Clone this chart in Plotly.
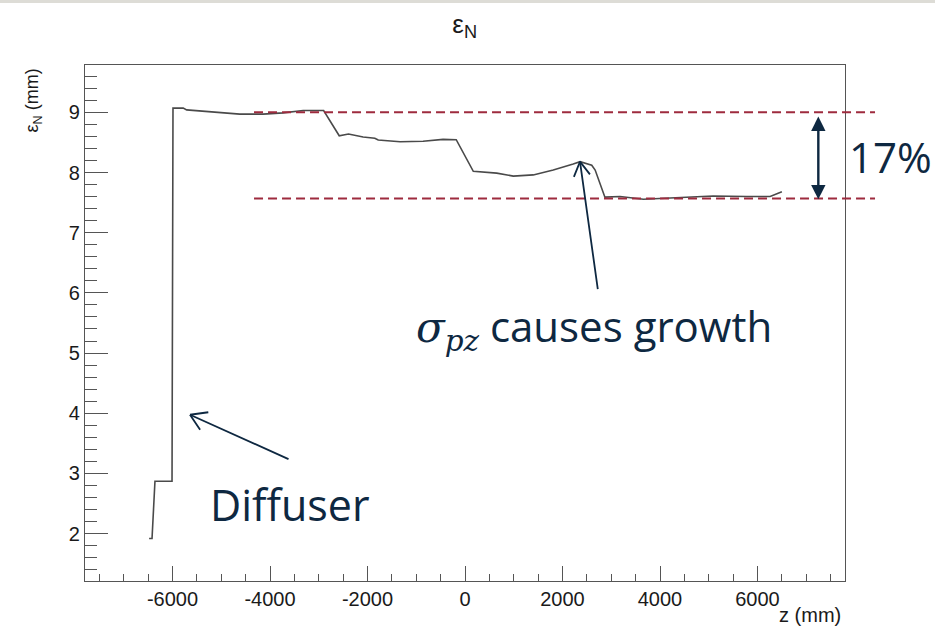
import plotly.graph_objects as go

# ---- data ----
z_mm = [-6480, -6420, -6360, -6010, -5990, -5780, -5710, -5160, -4820, -4620,
        -4140, -3730, -3320, -2970, -2900, -2580, -2390, -2090, -1850, -1780,
        -1330, -860, -450, -180, 170, 650, 990, 1400, 1810, 2220,
        2360, 2600, 2670, 2870, 3180, 3660, 4410, 5090, 5780, 6260, 6500]
eps_n = [1.92, 1.92, 2.87, 2.87, 9.07, 9.07, 9.04, 9.01, 8.98, 8.97,
         8.97, 8.99, 9.03, 9.04, 9.03, 8.61, 8.64, 8.59, 8.57, 8.54,
         8.51, 8.52, 8.55, 8.545, 8.02, 7.99, 7.94, 7.96, 8.04, 8.14,
         8.18, 8.12, 8.04, 7.59, 7.60, 7.555, 7.59, 7.61, 7.60, 7.60, 7.68]
ref_high = 9.0
ref_low = 7.57
x_tick_vals = [-6000, -4000, -2000, 0, 2000, 4000, 6000]
x_tick_text = ["-6000", "-4000", "-2000", "0", "2000", "4000", "6000"]
y_tick_vals = [2, 3, 4, 5, 6, 7, 8, 9]
y_tick_text = ["2", "3", "4", "5", "6", "7", "8", "9"]

NAVY = "#0e2841"
DASH = "#9e2b3e"
AX = "#555555"
ROOTFONT = "Liberation Sans, Arial"
TXTFONT = "Open Sans"

fig = go.Figure()
fig.add_trace(go.Scatter(x=z_mm, y=eps_n, mode="lines",
                         line=dict(color="#4a4a4a", width=1.6),
                         showlegend=False, hoverinfo="skip"))

axis_font = dict(family=ROOTFONT, size=20, color="#1a1a1a")
fig.update_xaxes(range=[-7795, 7795], tickvals=x_tick_vals, ticktext=x_tick_text,
                 ticks="inside", ticklen=15, tickwidth=1, tickcolor=AX,
                 minor=dict(dtick=500, ticks="inside", ticklen=7, tickwidth=1, tickcolor=AX),
                 showline=True, linecolor=AX, linewidth=1.3, mirror=True,
                 showgrid=False, zeroline=False, tickfont=axis_font)
fig.update_yaxes(range=[1.213, 9.786], tickvals=y_tick_vals, ticktext=y_tick_text,
                 ticks="inside", ticklen=23, tickwidth=1, tickcolor=AX,
                 minor=dict(dtick=0.2, ticks="inside", ticklen=12, tickwidth=1, tickcolor=AX),
                 showline=True, linecolor=AX, linewidth=1.3, mirror=True,
                 showgrid=False, zeroline=False, tickfont=axis_font)

shapes = []
for yv in (ref_high, ref_low):
    shapes.append(dict(type="line", xref="paper", yref="y",
                       x0=0.2224, x1=1.0395, y0=yv, y1=yv,
                       line=dict(color=DASH, width=2, dash="9px,5px")))
# thin gray band at very top
shapes.append(dict(type="rect", xref="paper", yref="paper",
                   x0=-0.2, x1=1.2, y0=1.12, y1=1.14,
                   line=dict(width=0), fillcolor="#dddcd6"))

annotations = []
# double arrow (17%)
annotations.append(dict(xref="x domain", yref="y", axref="x domain", ayref="y",
                        x=0.9649, y=7.555, ax=0.9649, ay=8.955, text="",
                        showarrow=True, arrowside="end+start", arrowhead=2,
                        arrowsize=1.2, arrowwidth=2.4, arrowcolor=NAVY))
annotations.append(dict(xref="paper", yref="y", x=1.06, y=8.26, text="17%",
                        showarrow=False, xanchor="center", yanchor="middle",
                        font=dict(family=TXTFONT, size=42, color=NAVY)))


def chevron(xt, yt, tail, arm1, arm2):
    out = []
    for off in (tail, arm1, arm2):
        out.append(dict(xref="x", yref="y", x=xt, y=yt, ax=off[0], ay=off[1],
                        axref="pixel", ayref="pixel", text="", showarrow=True,
                        arrowhead=0, arrowwidth=1.8, arrowcolor=NAVY, standoff=0))
    return out


# Diffuser arrow
annotations += chevron(-5641, 3.975, (100, 45), (19.8, -2.7), (11.1, 16.6))
annotations.append(dict(xref="x", yref="y", x=-3590, y=2.48, text="Diffuser",
                        showarrow=False, xanchor="center", yanchor="middle",
                        font=dict(family=TXTFONT, size=43, color=NAVY)))
# sigma arrow
annotations += chevron(2359, 8.18, (18, 129), (11.1, 14.2), (-6.7, 16.7))
annotations.append(dict(xref="x", yref="y", x=2656, y=5.43,
                        text="<span style='font-family:DejaVu Serif'><i>σ</i><sub><i>pz</i></sub></span> causes growth",
                        showarrow=False, xanchor="center", yanchor="middle",
                        font=dict(family=TXTFONT, size=42, color=NAVY)))
# axis titles
annotations.append(dict(xref="paper", yref="paper", x=-0.068, y=0.932,
                        text="ε<sub>N</sub> (mm)", textangle=-90, showarrow=False,
                        xanchor="center", yanchor="middle",
                        font=dict(family=ROOTFONT, size=18, color="#1a1a1a")))
annotations.append(dict(xref="paper", yref="paper", x=0.997, y=-0.066,
                        text="z (mm)", showarrow=False,
                        xanchor="right", yanchor="middle",
                        font=dict(family=ROOTFONT, size=20, color="#1a1a1a")))

fig.update_layout(
    width=935, height=626,
    margin=dict(l=85, r=90, t=65, b=45),
    paper_bgcolor="white", plot_bgcolor="white",
    title=dict(text="ε<sub>N</sub>", x=0.497, xanchor="center",
               y=0.962, yanchor="middle", yref="container",
               font=dict(family=ROOTFONT, size=26, color="#1a1a1a")),
    shapes=shapes, annotations=annotations,
)

fig.write_html("out.html")
